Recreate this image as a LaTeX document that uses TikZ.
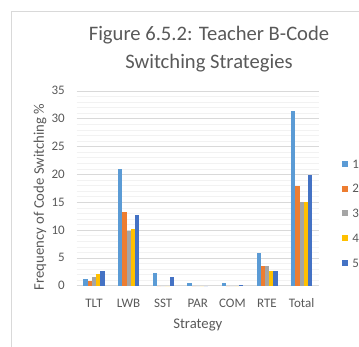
\documentclass[tikz,border=0pt]{standalone}
\usepackage{fontspec}
\setmainfont{Carlito}
\usetikzlibrary{positioning}

\definecolor{ser1}{HTML}{5B9BD5}
\definecolor{ser2}{HTML}{ED7D31}
\definecolor{ser3}{HTML}{A5A5A5}
\definecolor{ser4}{HTML}{FFC000}
\definecolor{ser5}{HTML}{4472C4}
\definecolor{txtgray}{HTML}{595959}
\definecolor{gridmaj}{HTML}{D9D9D9}
\definecolor{gridmin}{HTML}{F2F2F2}

\begin{document}
\begin{tikzpicture}[x=1pt, y=1pt,
    tick/.style={font=\fontsize{13}{15}\selectfont, text=txtgray, inner sep=1pt},
    axtitle/.style={font=\fontsize{14.7}{17}\selectfont, text=txtgray},
    key/.style={minimum size=6pt, inner sep=0pt}]
    \useasboundingbox (0,0) rectangle (359,347);
    \draw[gridmaj] (11,-2) -- (11,336) -- (362,336);

    \node[font=\fontsize{20.6}{28}\selectfont, text=txtgray, align=center]
        (title) at (209,298) {Figure 6.5.2: Teacher B-Code\\Switching Strategies};

    \begin{scope}[shift={(76.7,61.3)}, x=34.6pt, y=5.57pt]
        \foreach \y in {1,...,35}
            \draw[gridmin] (0,\y) -- (7,\y);
        \foreach \y in {0,5,...,35} {
            \draw[gridmaj] (0,\y) -- (7,\y);
            \node[tick, anchor=east] (y\y) at (-0.31,\y) {\y};
        }
        \foreach \cat/\va/\vb/\vc/\vd/\ve [count=\i] in
            {TLT/1.2/0.8/1.5/2.1/2.6, LWB/21/13.2/9.8/10.1/12.7,
             SST/2.2/0/0/0/1.5, PAR/0.5/0/0/0/0, COM/0.5/0/0/0/0.2,
             RTE/5.8/3.5/3.5/2.6/2.6, Total/31.4/17.9/15/15/19.9} {
            \node[tick] (cat\i) at (\i-0.5,-3.1) {\cat};
            \foreach \v [count=\k] in {\va,\vb,\vc,\vd,\ve}
                \fill[ser\k] ({\i-0.5+(\k-3.5)*0.1214},0) rectangle ++(0.1214,\v);
        }
    \end{scope}

    \node[axtitle, rotate=90] (ytitle) at (40,150) {Frequency of Code Switching \%};
    \node[axtitle] (xtitle) at (197.8,22) {Strategy};

    % legend
    \foreach \k/\y in {1/182.7, 2/158.3, 3/133.7, 4/108.7, 5/83.7} {
        \node[key, fill=ser\k] (key\k) at (345,\y) {};
        \node[tick, right=3pt of key\k] (lab\k) {\k};
    }
\end{tikzpicture}
\end{document}
